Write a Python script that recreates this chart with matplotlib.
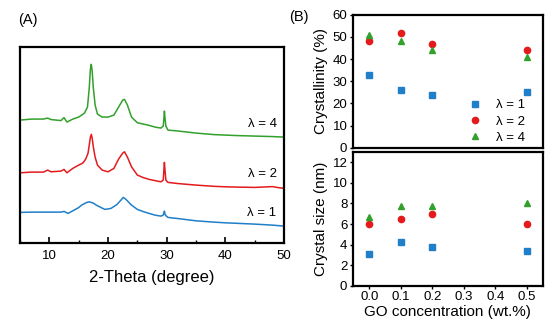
import numpy as np
import matplotlib
matplotlib.use('Agg')
import matplotlib.pyplot as plt
from matplotlib.ticker import MultipleLocator

plt.rcParams['font.family'] = ['Liberation Sans', 'DejaVu Sans']

#%% XRD patterns (intensity in arbitrary units, stacked)
tt_4 = [5, 7, 9, 9.7, 10.3, 12, 12.5, 13, 14, 15, 16, 16.5, 16.8, 17.0, 17.15, 17.3, 17.5, 17.8,
        18.2, 19, 20, 21, 21.8, 22.5, 22.8, 23.3, 24, 25, 26, 27, 28, 29, 29.4, 29.5, 29.6,
        29.7, 29.85, 30.2, 32, 35, 38, 40, 42, 45, 48, 50]
xrd_4 = [123, 124, 124, 125, 123.5, 122.5, 125.5, 121, 124, 126, 130, 136, 155, 174, 178.7, 172,
         155, 138, 129, 126, 126, 128, 136, 143, 143.7, 138, 126, 120.3, 119, 117.7, 116, 115,
         117, 124, 132, 125, 117, 113, 112, 110, 108.5, 108, 107.5, 107, 106.5, 106]

tt_2 = [5, 7, 9, 9.7, 10.3, 12, 12.5, 13, 14, 15, 15.7, 16.2, 16.6, 16.85, 17.0, 17.15, 17.3,
        17.5, 17.8, 18.2, 19, 20, 21, 21.8, 22.5, 22.8, 23.3, 24, 25, 26, 27, 28, 29, 29.4,
        29.5, 29.6, 29.7, 29.85, 30.2, 32, 35, 38, 40, 42, 45, 48, 49, 50]
xrd_2 = [70.3, 71, 71, 73, 71.3, 72, 73.7, 70.3, 74.7, 78, 80, 84, 90, 100, 106, 108.7, 105, 96,
         86, 78, 73, 71.3, 74.7, 84, 90, 91.3, 86, 76.3, 68, 65.5, 63.7, 62.5, 61.3, 63, 72,
         80.7, 73, 63, 60.7, 59.5, 58, 56.8, 56.3, 56, 55.7, 56.5, 55.5, 54.7]

tt_1 = [5, 7, 9, 10, 12, 12.5, 13.2, 14, 15, 15.5, 16.3, 16.8, 17.5, 18, 19, 19.5, 20.5, 21.5,
        22.2, 22.6, 23, 23.5, 24, 25, 26, 27, 28, 29, 29.4, 29.5, 29.6, 29.7, 29.85, 30.2, 32,
        35, 38, 40, 42, 45, 48, 50]
xrd_1 = [30.7, 31, 31, 31, 31, 31.7, 29.7, 32.3, 35.5, 38, 40.5, 41.3, 40, 38, 35, 33.7, 34.7,
         38.5, 43, 45.7, 44, 41, 38, 33.7, 31.5, 29.7, 28, 27, 28, 30, 32, 29, 27.5, 25.7,
         24.5, 22.3, 21, 20.3, 19.8, 19, 18, 17]

#%% crystallinity and crystal size vs GO content
go = [0.0, 0.1, 0.2, 0.5]
cryst_1 = [33, 26, 24, 25]
cryst_2 = [48, 52, 47, 44]
cryst_4 = [51, 48, 44, 41]
size_1 = [3.1, 4.3, 3.8, 3.35]
size_2 = [6.0, 6.5, 7.0, 6.0]
size_4 = [6.7, 7.8, 7.8, 8.0]

blue, red, green = '#1f7fc8', '#e41a1c', '#33a02c'

fig = plt.figure(figsize=(5.54, 3.29), dpi=100)

#%% panel A
axA = fig.add_axes([0.036, 0.261, 0.477, 0.596])
axA.plot(tt_1, xrd_1, color=blue, lw=1.1)
axA.plot(tt_2, xrd_2, color=red, lw=1.1)
axA.plot(tt_4, xrd_4, color=green, lw=1.1)
axA.set_xlim(5, 50)
axA.set_ylim(0, 196)
axA.set_yticks([])
axA.xaxis.set_major_locator(MultipleLocator(10))
axA.xaxis.set_minor_locator(MultipleLocator(5))
axA.tick_params(axis='x', which='major', direction='in', length=4, width=1.2, labelsize=9.5, pad=5)
axA.tick_params(axis='x', which='minor', direction='in', length=2, width=1.0)
axA.set_xlabel('2-Theta (degree)', fontsize=12, labelpad=6)
for s in axA.spines.values():
    s.set_linewidth(1.6)
axA.text(48.7, 119, 'λ = 4', fontsize=9.5, ha='right', va='center')
axA.text(48.7, 69, 'λ = 2', fontsize=9.5, ha='right', va='center')
axA.text(48.7, 30, 'λ = 1', fontsize=9.5, ha='right', va='center')
fig.text(0.032, 0.94, '(A)', fontsize=10.5, ha='left', va='center')

#%% panel B top
axB1 = fig.add_axes([0.637, 0.551, 0.343, 0.404])
axB1.plot(go, cryst_1, 's', color=blue, ms=4, ls='none', label='λ = 1')
axB1.plot(go, cryst_2, 'o', color=red, ms=4.5, ls='none', label='λ = 2')
axB1.plot(go, cryst_4, '^', color=green, ms=5, ls='none', label='λ = 4')
axB1.set_xlim(-0.052, 0.551)
axB1.set_ylim(0, 60)
axB1.set_yticks(range(0, 61, 10))
axB1.set_xticks([])
axB1.tick_params(axis='y', direction='out', length=2.5, width=1.0, labelsize=9.5, pad=1.5)
axB1.set_ylabel('Crystallinity (%)', fontsize=11, labelpad=3)
axB1.legend(loc='lower right', frameon=False, fontsize=9.5, handletextpad=0.6,
            borderaxespad=0.2, labelspacing=0.3, bbox_to_anchor=(0.95, -0.03))
for s in axB1.spines.values():
    s.set_linewidth(1.6)
fig.text(0.521, 0.948, '(B)', fontsize=10.5, ha='left', va='center')

#%% panel B bottom
axB2 = fig.add_axes([0.637, 0.131, 0.343, 0.407])
axB2.plot(go, size_1, 's', color=blue, ms=4, ls='none')
axB2.plot(go, size_2, 'o', color=red, ms=4.5, ls='none')
axB2.plot(go, size_4, '^', color=green, ms=5, ls='none')
axB2.set_xlim(-0.052, 0.551)
axB2.set_ylim(0, 13)
axB2.set_yticks(range(0, 13, 2))
axB2.set_xticks(np.arange(0, 0.51, 0.1))
axB2.set_xticklabels(['0.0', '0.1', '0.2', '0.3', '0.4', '0.5'])
axB2.tick_params(axis='y', direction='out', length=2.5, width=1.0, labelsize=9.5, pad=1.5)
axB2.tick_params(axis='x', direction='out', length=2, width=1.0, labelsize=9.5, pad=2)
axB2.set_ylabel('Crystal size (nm)', fontsize=11, labelpad=3)
axB2.set_xlabel('GO concentration (wt.%)', fontsize=11, labelpad=1)
for s in axB2.spines.values():
    s.set_linewidth(1.6)

plt.savefig('out.png', dpi=100)
plt.close()
